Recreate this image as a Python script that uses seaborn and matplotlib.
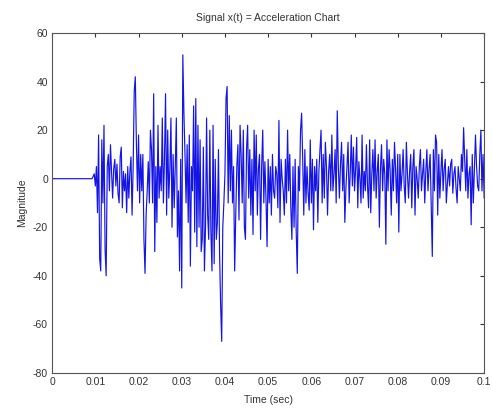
import numpy as np
import pandas as pd
import seaborn as sns
import matplotlib
matplotlib.use("Agg")
import matplotlib.pyplot as plt

# sampling grid (s)
dt = 0.00025
t_start = 0.0095

# quiet lead-in before the event
quiet = [0.0] * 38

# acceleration samples, from t = 0.0095 s onward
signal = [
    1, 2, -3, 5, -14, 18, -33, -38, 16, -10,
    22, -29, -40, 5, 10, -5, 14, 3, -8, 4,
    8, -3, 6, -6, -10, 9, 13, -12, 3, -5,
    2, -14, 5, -8, 3, 9, -15, 5, 36, 42,
    15, -5, 18, -10, 10, -5, 10, -25, -39, -15,
    -5, 7, -10, 20, 12, -10, 35, -30, 5, -18,
    22, -8, 5, -5, 25, -10, 8, 35, -15, 20,
    -8, 4, 25, -20, 10, -12, 5, 25, -24, -5,
    -38, 8, -45, 51, 27, 10, -10, 14, -18, 18,
    -36, 5, -5, 30, -22, 33, -28, 22, -20, 16,
    -30, -25, 13, -38, -20, 25, -15, -25, 20, -22,
    -38, 22, -35, 8, -25, -18, 12, -30, -52, -67,
    -20, -10, 2, 33, 38, -10, 26, -5, 20, -10,
    5, -38, -15, 5, 14, -17, 22, 10, -10, 20,
    -20, -25, 12, 22, -8, 12, -15, 8, -23, 20,
    -5, 18, -15, 4, 10, -25, 5, 20, -10, 7,
    -8, -28, 8, -10, 5, -15, 10, -5, -8, 5,
    2, -12, 24, -18, 8, 0, -5, -15, 8, -10,
    20, -5, 10, -12, -25, 5, -20, 8, -22, -39,
    5, -5, 20, 27, 8, -15, 12, -10, 5, -6,
    -13, 16, -10, 8, -21, 5, -5, 8, -18, 3,
    12, 20, -10, 10, -8, 15, 5, -15, 3, 10,
    -5, 18, -5, 2, 12, -10, 28, 5, -8, 6,
    15, -5, 10, -18, -4, 5, 15, -10, 2, 18,
    -3, 13, -5, 4, 17, -12, 7, 0, -10, 18,
    -8, 3, -5, 14, -3, -12, 16, -14, 2, 12,
    -5, 16, -8, 3, 10, -20, 4, 14, -5, 8,
    2, -27, 16, -5, 12, 3, -15, 8, -5, 15,
    4, -10, 10, -22, 10, -5, 2, 12, -3, -10,
    15, 2, -8, 3, 10, -12, 5, 12, -15, 5,
    0, -8, 5, 12, -5, 2, 8, -10, 3, 12,
    -5, 4, 10, -10, -32, 12, -5, 18, 15, -15,
    10, -8, 3, 12, -5, 4, 8, -10, -2, 5,
    -3, 6, 8, -6, 2, 5, -4, -10, 5, 0,
    -5, 10, 3, 21, 8, -5, 12, -8, 2, 5,
    -19, 10, -10, 4, 18, 5, -3, -5, 10, 20,
    -5, 10, -8,
]

x_ticks = [0, 0.01, 0.02, 0.03, 0.04, 0.05, 0.06, 0.07, 0.08, 0.09, 0.1]
x_labels = ["0", "0.01", "0.02", "0.03", "0.04", "0.05", "0.06", "0.07", "0.08", "0.09", "0.1"]
y_ticks = [-80, -60, -40, -20, 0, 20, 40, 60]

values = quiet + signal
t = np.arange(len(values)) * dt
df = pd.DataFrame({"time": t, "magnitude": values})

sns.set_style("white")
plt.rcParams["font.family"] = ["Liberation Sans", "DejaVu Sans"]
plt.rcParams["axes.unicode_minus"] = False

fig = plt.figure(figsize=(4.92, 4.08), dpi=100)
ax = fig.add_axes([0.106, 0.086, 0.878, 0.833])

sns.lineplot(data=df, x="time", y="magnitude", ax=ax, color="#1414e6",
             linewidth=0.85, estimator=None, sort=False)

ax.set_xlim(0, 0.1)
ax.set_ylim(-80, 60)
ax.set_xticks(x_ticks)
ax.set_xticklabels(x_labels)
ax.set_yticks(y_ticks)
ax.tick_params(direction="in", length=3, top=True, right=True,
               labelsize=7.5, colors="#333333", pad=3)
for s in ax.spines.values():
    s.set_color("#555555")
    s.set_linewidth(0.8)

ax.set_title("Signal x(t) = Acceleration Chart", fontsize=7.5, color="#333333", pad=9)
ax.set_xlabel("Time (sec)", fontsize=7.5, color="#333333", labelpad=6)
ax.set_ylabel("Magnitude", fontsize=7.5, color="#333333", labelpad=4)

fig.savefig("out.png", dpi=100)
